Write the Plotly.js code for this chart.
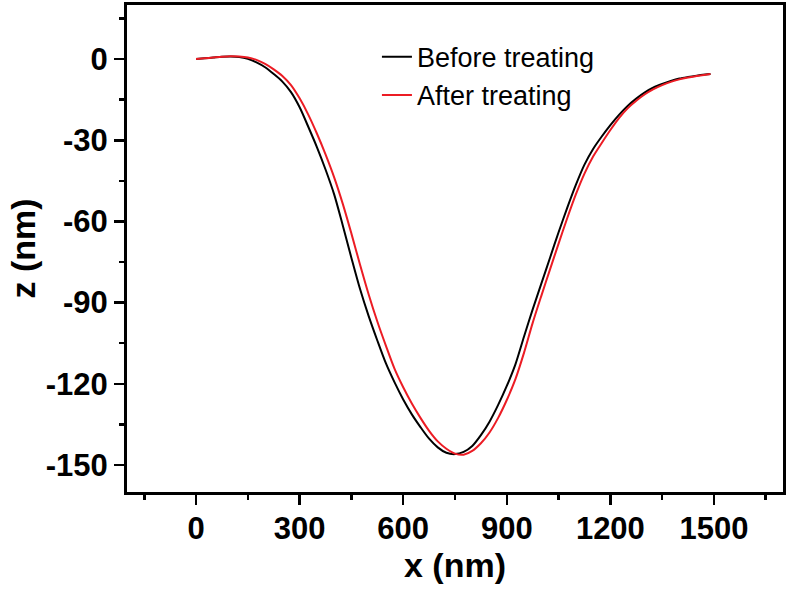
<!DOCTYPE html>
<html>
<head>
<meta charset="utf-8">
<script src="https://cdn.plot.ly/plotly-3.0.1.min.js"></script>
<style>html,body{margin:0;padding:0;background:#fff}#chart{width:788px;height:591px}</style>
</head>
<body>
<div id="chart"></div>
<script>
const xPos = [0,25,50,75,100,125,150,175,200,225,250,275,300,325,350,375,400,425,450,475,500,525,550,575,600,625,650,675,700,725,750,775,800,825,850,875,900,925,950,975,1000,1025,1050,1075,1100,1125,1150,1175,1200,1225,1250,1275,1300,1325,1350,1375,1400,1425,1450,1475,1490];
const zBefore = [0,0.3,0.6,0.9,1.0,0.8,0.1,-1.2,-3,-5.5,-8.3,-12.2,-17.8,-25,-32.5,-40.8,-50,-61.5,-73.5,-85,-95,-104,-112.5,-119.5,-125.8,-131.3,-136,-140.3,-143.5,-145.5,-146,-145.2,-143,-139,-134,-127.8,-120.8,-112.8,-102.5,-92.5,-83,-73.5,-64,-55,-46.5,-39,-33.2,-28.6,-24.4,-20.6,-17.3,-14.6,-12.3,-10.5,-9.2,-8.1,-7.2,-6.6,-6.1,-5.7,-5.5];
const zAfter = [0,0.3,0.6,0.9,1.1,1.0,0.6,-0.3,-1.8,-3.8,-6.2,-9.6,-14.5,-20.5,-27.5,-35.2,-43.7,-53.5,-64.5,-76,-87,-97,-106,-114.5,-121.3,-127.3,-132.6,-137.4,-141.3,-144,-145.8,-146.2,-144.8,-142,-138,-132.6,-126,-118.3,-108.5,-97.5,-87.5,-77.8,-68.2,-58.8,-50,-42.3,-36,-31,-26.2,-21.8,-18.2,-15.4,-13,-11.1,-9.6,-8.4,-7.5,-6.8,-6.2,-5.8,-5.5];
const seriesNames = ["Before treating", "After treating"];
const xTickVals = [0,300,600,900,1200,1500];
const xTickText = ["0","300","600","900","1200","1500"];
const yTickVals = [0,-30,-60,-90,-120,-150];
const yTickText = ["0","-30","-60","-90","-120","-150"];

const traces = [
  {x: xPos, y: zBefore, name: seriesNames[0], mode: 'lines', line: {color: '#000000', width: 2, shape: 'spline', smoothing: 0.8}},
  {x: xPos, y: zAfter, name: seriesNames[1], mode: 'lines', line: {color: '#ec1c24', width: 2, shape: 'spline', smoothing: 0.8}}
];
const axisCommon = {
  showgrid: false, zeroline: false, showline: true, linecolor: '#000', linewidth: 3,
  mirror: true, ticks: 'outside', ticklen: 10, tickwidth: 2.5, tickcolor: '#000',
  tickfont: {family: 'Liberation Sans, Arial, sans-serif', size: 31, color: '#000', weight: 'bold'}
};
const layout = {
  width: 788, height: 591,
  margin: {l: 127, r: 2, t: 5, b: 99},
  paper_bgcolor: '#fff', plot_bgcolor: '#fff',
  showlegend: true,
  legend: {x: 0.381, y: 0.943, xanchor: 'left', yanchor: 'top', bgcolor: 'rgba(0,0,0,0)',
    font: {family: 'Liberation Sans, Arial, sans-serif', size: 27, color: '#000'}},
  xaxis: Object.assign({}, axisCommon, {
    range: [-200, 1700], tickmode: 'array', tickvals: xTickVals, ticktext: xTickText,
    ticklabelstandoff: -3, automargin: true,
    minor: {tickmode: 'linear', tick0: 150, dtick: 300, ticks: 'outside', ticklen: 5, tickwidth: 2.5, tickcolor: '#000'},
    title: {text: 'x (nm)', standoff: 4, font: {family: 'Liberation Sans, Arial, sans-serif', size: 34, color: '#000', weight: 'bold'}}
  }),
  yaxis: Object.assign({}, axisCommon, {
    range: [-160, 20], tickmode: 'array', tickvals: yTickVals, ticktext: yTickText,
    automargin: true,
    minor: {tickmode: 'linear', tick0: 15, dtick: 30, ticks: 'outside', ticklen: 5, tickwidth: 2.5, tickcolor: '#000'},
    title: {text: 'z (nm)', standoff: 0, font: {family: 'Liberation Sans, Arial, sans-serif', size: 34, color: '#000', weight: 'bold'}}
  })
};
Plotly.newPlot('chart', traces, layout, {staticPlot: true, displayModeBar: false});
</script>
</body>
</html>
